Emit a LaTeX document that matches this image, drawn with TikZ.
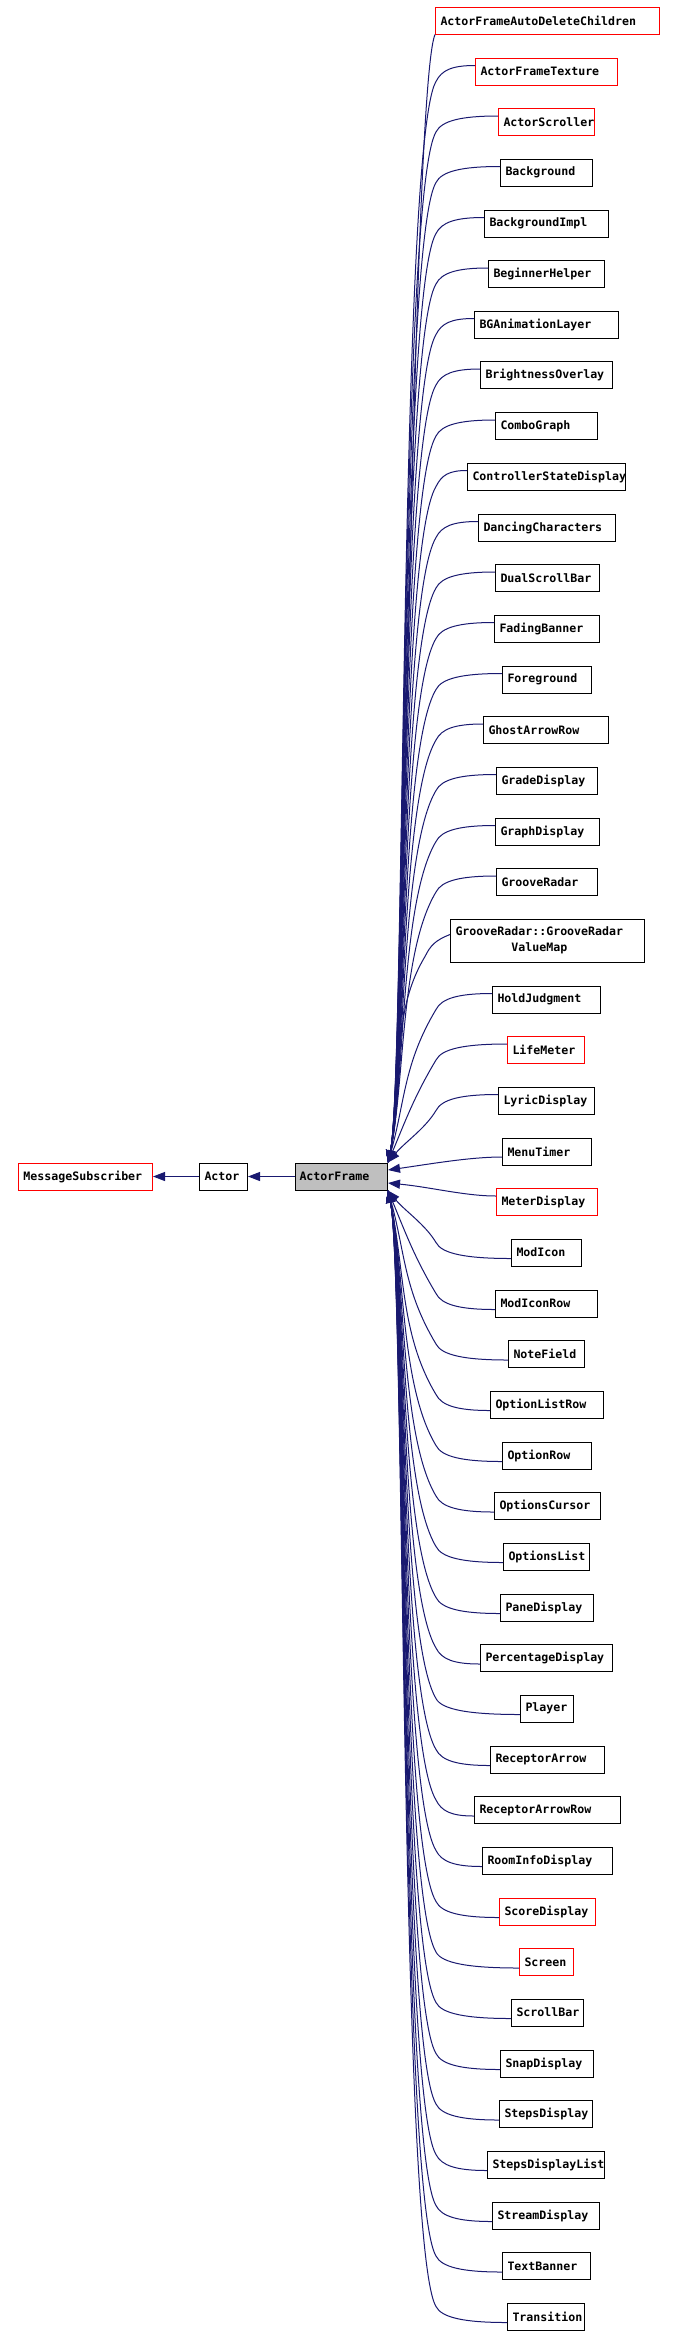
\documentclass[tikz,border=0pt]{standalone}
\usepackage{fontspec}
\newfontfamily\dxmono{DejaVu Sans Mono}
\usetikzlibrary{arrows.meta}
\definecolor{edgec}{RGB}{25,25,112}
\definecolor{redc}{RGB}{255,0,0}
\definecolor{afill}{RGB}{191,191,191}
\tikzset{
  cls/.style={draw=black, line width=1pt, inner xsep=0pt, inner ysep=0pt, minimum height=27pt, anchor=west,
    font=\dxmono\bfseries\fontsize{11.6}{16}\selectfont},
  redcls/.style={cls, draw=redc},
  edge/.style={draw=edgec, line width=1pt, -{Triangle[length=12pt,width=9pt]}},
}
\newcommand{\cls}[6]{\pgfmathsetmacro\cw{#3-#2}\node[#5] (#1) at (#2,#4) {\makebox[\cw pt][l]{\hspace{5pt}#6}};}
% edge from a child above ActorFrame
\newcommand{\fanT}[3]{%
  \pgfmathsetmacro\fys{#3-6}%
  \pgfmathsetmacro\fdy{1163-\fys}%
  \pgfmathsetmacro\fr{min(16,0.25*\fdy)}%
  \pgfmathsetmacro\fkx{min(436,#2-25)}%
  \pgfmathsetmacro\fky{\fys+\fr}%
  \pgfmathsetmacro\fax{#2-0.6*(#2-\fkx)}%
  \pgfmathsetmacro\fbx{\fkx+0.35*\fr}%
  \pgfmathsetmacro\fby{\fky-0.7*\fr}%
  \pgfmathsetmacro\fdd{1163-\fky}%
  \pgfmathsetmacro\fm{min(60,0.35*\fdd)}%
  \pgfmathsetmacro\fcx{\fkx-0.6*\fm}%
  \pgfmathsetmacro\fcy{\fky+\fm}%
  \pgfmathsetmacro\fey{1163-min(80,0.4*\fdd)}%
  \draw[edge] ([yshift=6pt]#1.west) .. controls (\fax,\fys) and (\fbx,\fby) .. (\fkx,\fky)
     .. controls (\fcx,\fcy) and (405,\fey) .. (AF.north east);
}
% edge from a child below ActorFrame
\newcommand{\fanB}[3]{%
  \pgfmathsetmacro\fys{#3+6}%
  \pgfmathsetmacro\fdy{\fys-1190}%
  \pgfmathsetmacro\fr{min(16,0.25*\fdy)}%
  \pgfmathsetmacro\fkx{min(436,#2-25)}%
  \pgfmathsetmacro\fky{\fys-\fr}%
  \pgfmathsetmacro\fax{#2-0.6*(#2-\fkx)}%
  \pgfmathsetmacro\fbx{\fkx+0.35*\fr}%
  \pgfmathsetmacro\fby{\fky+0.7*\fr}%
  \pgfmathsetmacro\fdd{\fky-1190}%
  \pgfmathsetmacro\fm{min(60,0.35*\fdd)}%
  \pgfmathsetmacro\fcx{\fkx-0.6*\fm}%
  \pgfmathsetmacro\fcy{\fky-\fm}%
  \pgfmathsetmacro\fey{1190+min(80,0.4*\fdd)}%
  \draw[edge] ([yshift=-6pt]#1.west) .. controls (\fax,\fys) and (\fbx,\fby) .. (\fkx,\fky)
     .. controls (\fcx,\fcy) and (405,\fey) .. (AF.south east);
}
\begin{document}
\begin{tikzpicture}[x=1pt,y=-1pt]
\useasboundingbox (0,0) rectangle (675,2337);
\fill[white] (0,0) rectangle (675,2337);
% main chain
\cls{MS}{18}{152}{1176.5}{redcls}{MessageSubscriber}
\cls{Actor}{199}{247}{1176.5}{cls}{Actor}
\cls{AF}{295}{387}{1176.5}{cls,fill=afill}{\hspace{-1pt}ActorFrame}
\draw[edge] (Actor.west) -- (MS.east);
\draw[edge] (AF.west) -- (Actor.east);
% children
\cls{c0}{435}{659}{20.5}{redcls}{ActorFrameAutoDeleteChildren}
\cls{c1}{475}{617}{71.5}{redcls}{ActorFrameTexture}
\cls{c2}{498}{594}{122}{redcls}{ActorScroller}
\cls{c3}{500}{592}{172.5}{cls}{Background}
\cls{c4}{484}{608}{223.5}{cls}{BackgroundImpl}
\cls{c5}{488}{604}{274}{cls}{BeginnerHelper}
\cls{c6}{474}{618}{324.5}{cls}{BGAnimationLayer}
\cls{c7}{480}{612}{375}{cls}{BrightnessOverlay}
\cls{c8}{495}{597}{426}{cls}{ComboGraph}
\cls{c9}{467}{625}{476.5}{cls}{ControllerStateDisplay}
\cls{c10}{478}{615}{527.5}{cls}{DancingCharacters}
\cls{c11}{495}{599}{578}{cls}{DualScrollBar}
\cls{c12}{494}{599}{628.5}{cls}{FadingBanner}
\cls{c13}{502}{591}{679.5}{cls}{Foreground}
\cls{c14}{483}{608}{730}{cls}{GhostArrowRow}
\cls{c15}{496}{597}{780.5}{cls}{GradeDisplay}
\cls{c16}{495}{599}{831.5}{cls}{GraphDisplay}
\cls{c17}{496}{597}{882}{cls}{GrooveRadar}
\node[cls, minimum height=43pt] (c18) at (450,940.5)
  {\makebox[194pt][l]{\hspace{5pt}\begin{tabular}{@{}c@{}}GrooveRadar::GrooveRadar\\ValueMap\end{tabular}}};
\cls{c19}{492}{600}{999.5}{cls}{HoldJudgment}
\cls{c20}{507}{584}{1050}{redcls}{LifeMeter}
\cls{c21}{498}{594}{1100.5}{cls}{LyricDisplay}
\cls{c22}{502}{591}{1151.5}{cls}{MenuTimer}
\cls{c23}{496}{597}{1202}{redcls}{MeterDisplay}
\cls{c24}{511}{581}{1252.5}{cls}{ModIcon}
\cls{c25}{495}{597}{1303.5}{cls}{ModIconRow}
\cls{c26}{508}{584}{1354}{cls}{NoteField}
\cls{c27}{490}{603}{1404.5}{cls}{OptionListRow}
\cls{c28}{502}{591}{1455.5}{cls}{OptionRow}
\cls{c29}{494}{600}{1506}{cls}{OptionsCursor}
\cls{c30}{503}{589}{1556.5}{cls}{OptionsList}
\cls{c31}{500}{593}{1607.5}{cls}{PaneDisplay}
\cls{c32}{480}{612}{1658}{cls}{PercentageDisplay}
\cls{c33}{520}{573}{1708.5}{cls}{Player}
\cls{c34}{490}{604}{1759.5}{cls}{ReceptorArrow}
\cls{c35}{474}{620}{1810}{cls}{ReceptorArrowRow}
\cls{c36}{482}{612}{1860.5}{cls}{RoomInfoDisplay}
\cls{c37}{499}{595}{1911.5}{redcls}{ScoreDisplay}
\cls{c38}{519}{573}{1962}{redcls}{Screen}
\cls{c39}{511}{583}{2012.5}{cls}{ScrollBar}
\cls{c40}{500}{593}{2063.5}{cls}{SnapDisplay}
\cls{c41}{499}{592}{2114}{cls}{StepsDisplay}
\cls{c42}{487}{604}{2164.5}{cls}{StepsDisplayList}
\cls{c43}{492}{599}{2215.5}{cls}{StreamDisplay}
\cls{c44}{502}{590}{2266}{cls}{TextBanner}
\cls{c45}{507}{584}{2316.5}{cls}{Transition}
% edges
\draw[edge] (c0.south west) .. controls (412,90) and (405,1083) .. (AF.north east);
\fanT{c1}{475}{71.5}
\fanT{c2}{498}{122}
\fanT{c3}{500}{172.5}
\fanT{c4}{484}{223.5}
\fanT{c5}{488}{274}
\fanT{c6}{474}{324.5}
\fanT{c7}{480}{375}
\fanT{c8}{495}{426}
\fanT{c9}{467}{476.5}
\fanT{c10}{478}{527.5}
\fanT{c11}{495}{578}
\fanT{c12}{494}{628.5}
\fanT{c13}{502}{679.5}
\fanT{c14}{483}{730}
\fanT{c15}{496}{780.5}
\fanT{c16}{495}{831.5}
\fanT{c17}{496}{882}
\fanT{c18}{450}{946.5}
\fanT{c19}{492}{999.5}
\fanT{c20}{507}{1050}
\fanT{c21}{498}{1100.5}
\draw[edge] ([yshift=-5.5pt]c22.west) .. controls (470,1157) and (430,1164) .. ([yshift=6.5pt]AF.east);
\draw[edge] ([yshift=6pt]c23.west) .. controls (465,1196) and (430,1187) .. ([yshift=-6.5pt]AF.east);
\fanB{c24}{511}{1252.5}
\fanB{c25}{495}{1303.5}
\fanB{c26}{508}{1354}
\fanB{c27}{490}{1404.5}
\fanB{c28}{502}{1455.5}
\fanB{c29}{494}{1506}
\fanB{c30}{503}{1556.5}
\fanB{c31}{500}{1607.5}
\fanB{c32}{480}{1658}
\fanB{c33}{520}{1708.5}
\fanB{c34}{490}{1759.5}
\fanB{c35}{474}{1810}
\fanB{c36}{482}{1860.5}
\fanB{c37}{499}{1911.5}
\fanB{c38}{519}{1962}
\fanB{c39}{511}{2012.5}
\fanB{c40}{500}{2063.5}
\fanB{c41}{499}{2114}
\fanB{c42}{487}{2164.5}
\fanB{c43}{492}{2215.5}
\fanB{c44}{502}{2266}
\fanB{c45}{507}{2316.5}
\end{tikzpicture}
\end{document}
